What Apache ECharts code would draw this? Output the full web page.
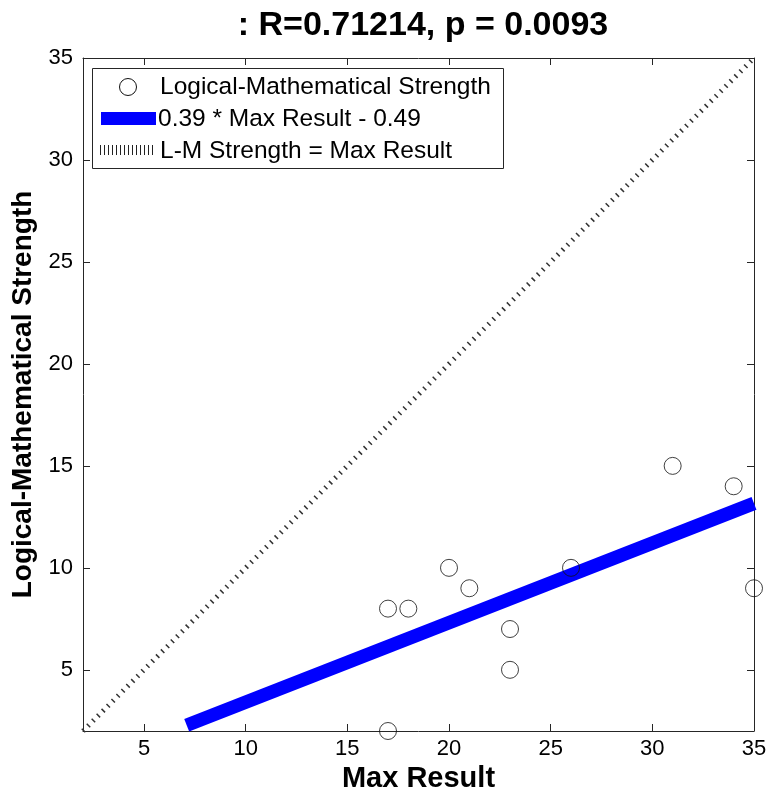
<!DOCTYPE html>
<html>
<head>
<meta charset="utf-8">
<script src="https://cdn.jsdelivr.net/npm/echarts@6/dist/echarts.min.js"></script>
<style>html,body{margin:0;padding:0;background:#fff;}#chart{width:771px;height:791px;}</style>
</head>
<body>
<div id="chart"></div>
<script>
// ---- data ----
const titleText = ': R=0.71214, p = 0.0093';
const xName = 'Max Result';
const yName = 'Logical-Mathematical Strength';
const seriesNames = ['Logical-Mathematical Strength', '0.39 * Max Result - 0.49', 'L-M Strength = Max Result'];
const maxResult = [17, 17, 18, 20, 21, 23, 23, 26, 31, 34, 35];
const lmStrength = [2, 8, 8, 10, 9, 7, 5, 10, 15, 14, 9];
const fitX = [7.1, 35];
const fitY = [2.28, 13.16];
const identX = [2, 35];
const identY = [2, 35];
const xTicks = [5, 10, 15, 20, 25, 30, 35];
const yTicks = [5, 10, 15, 20, 25, 30, 35];
const axisMin = 2, axisMax = 35;

const FONT = '"Liberation Sans", Arial, sans-serif';
const AX = '#262626';
const chart = echarts.init(document.getElementById('chart'));

function pairs(xs, ys) { return xs.map((x, i) => [x, ys[i]]); }

const baseAxis = {
  type: 'value', min: axisMin, max: axisMax,
  axisLine: { show: true, onZero: false, lineStyle: { color: AX, width: 1 } },
  splitLine: { show: false }
};

chart.setOption({
  animation: false,
  backgroundColor: '#fff',
  title: {
    text: titleText, left: 418, top: 4, textAlign: 'center',
    textStyle: { fontFamily: FONT, fontWeight: 'bold', fontSize: 34, color: '#000' }
  },
  grid: { left: 83, right: 17, top: 58, bottom: 60, containLabel: false, outerBoundsMode: 'none' },
  xAxis: [
    Object.assign({}, baseAxis, {
      position: 'bottom', name: xName, nameLocation: 'middle', nameGap: 27,
      nameTextStyle: { fontFamily: FONT, fontWeight: 'bold', fontSize: 29, color: '#000' },
      axisTick: { show: true, inside: true, length: 7, customValues: xTicks, lineStyle: { color: AX } },
      axisLabel: { show: true, customValues: xTicks, margin: 7, fontFamily: FONT, fontSize: 22, color: '#000' }
    }),
    Object.assign({}, baseAxis, {
      position: 'top',
      axisTick: { show: true, inside: true, length: 7, customValues: xTicks, lineStyle: { color: AX } },
      axisLabel: { show: false }
    })
  ],
  yAxis: [
    Object.assign({}, baseAxis, {
      position: 'left', name: yName, nameLocation: 'middle', nameGap: 46, nameRotate: 90,
      nameTextStyle: { fontFamily: FONT, fontWeight: 'bold', fontSize: 28, color: '#000' },
      axisTick: { show: true, inside: true, length: 7, customValues: yTicks, lineStyle: { color: AX } },
      axisLabel: { show: true, customValues: yTicks, margin: 10, fontFamily: FONT, fontSize: 22, color: '#000' }
    }),
    Object.assign({}, baseAxis, {
      position: 'right',
      axisTick: { show: true, inside: true, length: 7, customValues: yTicks, lineStyle: { color: AX } },
      axisLabel: { show: false }
    })
  ],
  series: [
    {
      name: seriesNames[2], type: 'line', data: pairs(identX, identY),
      showSymbol: false, symbol: 'none', clip: true, z: 2,
      lineStyle: { color: '#333', width: 5, type: [1.5, 5.5], cap: 'butt' }
    },
    {
      name: seriesNames[1], type: 'line', data: pairs(fitX, fitY),
      showSymbol: false, symbol: 'none', clip: true, z: 3,
      lineStyle: { color: '#0000ff', width: 13.5, cap: 'butt' }
    },
    {
      name: seriesNames[0], type: 'scatter', data: pairs(maxResult, lmStrength),
      symbol: 'circle', symbolSize: 17, clip: false, z: 4,
      itemStyle: { color: 'rgba(0,0,0,0)', borderColor: '#111', borderWidth: 1 }
    }
  ],
  graphic: [
    { type: 'rect', shape: { x: 92.5, y: 68.5, width: 411, height: 100 },
      style: { fill: '#fff', stroke: AX, lineWidth: 1 }, z: 10 },
    { type: 'circle', shape: { cx: 128, cy: 87, r: 8.5 },
      style: { fill: 'none', stroke: '#111', lineWidth: 1 }, z: 11 },
    { type: 'rect', shape: { x: 101, y: 112, width: 55, height: 13 },
      style: { fill: '#0000ff' }, z: 11 },
    { type: 'line', shape: { x1: 100, y1: 150, x2: 153, y2: 150 },
      style: { stroke: '#222', lineWidth: 10, lineDash: [1, 3] }, z: 11 },
    { type: 'text', x: 160, y: 87, z: 11,
      style: { text: seriesNames[0], font: '24.5px ' + FONT, fill: '#000', verticalAlign: 'middle' } },
    { type: 'text', x: 158, y: 119, z: 11,
      style: { text: seriesNames[1], font: '24.5px ' + FONT, fill: '#000', verticalAlign: 'middle' } },
    { type: 'text', x: 160, y: 151, z: 11,
      style: { text: seriesNames[2], font: '24.5px ' + FONT, fill: '#000', verticalAlign: 'middle' } }
  ]
});
</script>
</body>
</html>
